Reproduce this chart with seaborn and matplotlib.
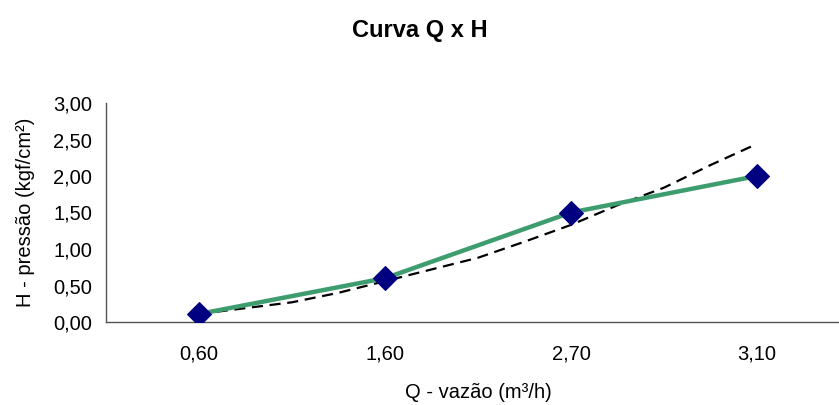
import numpy as np
import pandas as pd
import matplotlib
matplotlib.use("Agg")
import matplotlib.pyplot as plt
import seaborn as sns

# dados
vazao = ['0,60', '1,60', '2,70', '3,10']
pressao = [0.11, 0.60, 1.50, 2.00]

# linha de tendência (tracejada), posição em unidades de categoria
tend_x = [0, 0.25, 0.5, 0.75, 1, 1.25, 1.5, 1.75, 2, 2.25, 2.5, 2.75, 3]
tend_y = [0.11, 0.19, 0.27, 0.40, 0.56, 0.72, 0.88, 1.10, 1.33, 1.60, 1.84, 2.15, 2.44]

y_ticks = [0, 0.5, 1.0, 1.5, 2.0, 2.5, 3.0]

sns.set_style("white")
plt.rcParams['font.family'] = ['Liberation Sans', 'DejaVu Sans']
plt.rcParams['text.color'] = 'black'
plt.rcParams['axes.labelcolor'] = 'black'
plt.rcParams['xtick.color'] = 'black'
plt.rcParams['ytick.color'] = 'black'

df = pd.DataFrame({'pos': np.arange(len(vazao)), 'H': pressao})
df_t = pd.DataFrame({'pos': tend_x, 'H': tend_y})

fig = plt.figure(figsize=(8.39, 4.05), dpi=100)
ax = fig.add_axes([106 / 839, (405 - 322) / 405, 744 / 839, 219 / 405])

sns.lineplot(x='pos', y='H', data=df_t, ax=ax, color='black', linewidth=1.6,
             dashes=False, zorder=3)
ax.lines[-1].set_dashes([5, 3])
sns.lineplot(x='pos', y='H', data=df, ax=ax, color='#3e9d6f', linewidth=3.2,
             marker='D', markersize=12, markerfacecolor='#000080',
             markeredgecolor='#000080', zorder=4)

ax.set_xlim(-0.5, len(vazao) - 0.5)
ax.set_ylim(0, 3.0)
ax.set_yticks(y_ticks)
ax.set_yticklabels([f'{v:.2f}'.replace('.', ',') for v in y_ticks], fontsize=14.5)
ax.set_xticks(np.arange(len(vazao)))
ax.set_xticklabels(vazao, fontsize=14.5)
ax.set_xticks(np.arange(len(vazao) + 1) - 0.5, minor=True)
ax.tick_params(axis='x', which='major', length=0, pad=16)
ax.tick_params(axis='x', which='minor', length=6, width=1, color='#555555', direction='out')
ax.tick_params(axis='y', length=6, width=1, color='#555555', direction='out', pad=4)

for s in ['top', 'right']:
    ax.spines[s].set_visible(False)
for s in ['left', 'bottom']:
    ax.spines[s].set_color('#555555')
    ax.spines[s].set_linewidth(1)

ax.set_xlabel('Q - vazão (m³/h)', fontsize=14.5, labelpad=14)
ax.set_ylabel('H - pressão (kgf/cm²)', fontsize=14.5, labelpad=13)
fig.text(0.5, 1 - 31 / 405, 'Curva Q x H', ha='center', va='center',
         fontsize=17, fontweight='bold')

fig.savefig('out.png', dpi=100)
